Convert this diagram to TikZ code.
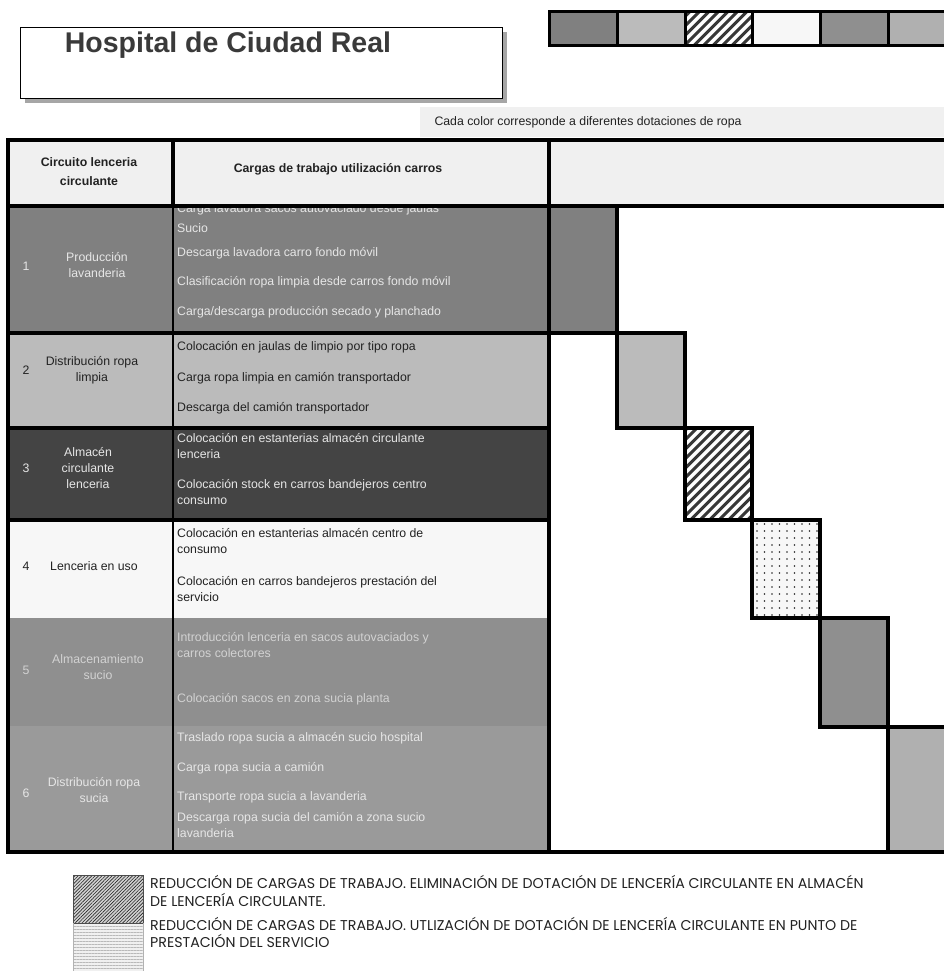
\documentclass[tikz,border=0pt]{standalone}
\usepackage{fontspec}
\setmainfont{Liberation Sans}
\newfontfamily\legfont{Poppins}
\usetikzlibrary{patterns.meta}
\definecolor{hdrbg}{HTML}{F0F0F0}
\definecolor{rowA}{HTML}{808080}
\definecolor{rowB}{HTML}{BBBBBB}
\definecolor{rowC}{HTML}{444444}
\definecolor{rowD}{HTML}{F7F7F7}
\definecolor{rowE}{HTML}{8F8F8F}
\definecolor{rowF}{HTML}{9A9A9A}
\definecolor{blkF}{HTML}{B0B0B0}
\definecolor{hatchcol}{HTML}{383838}
\definecolor{lighttxt}{HTML}{E6E6E6}
\definecolor{fadetxt}{HTML}{D2D2D2}
\definecolor{darktxt}{HTML}{222222}
\definecolor{titlecol}{HTML}{3A3A3A}
\tikzset{
  bodyfont/.style={font=\fontsize{12.3}{16}\selectfont},
  tline/.style={bodyfont, anchor=base west, inner sep=0pt},
  numlab/.style={bodyfont, anchor=base, inner sep=0pt},
  rowlab/.style={bodyfont, align=center, inner sep=0pt},
  heavy/.style={line width=3.5pt},
  thinrule/.style={line width=1.5pt},
  barline/.style={line width=3pt},
  stripe/.style={line width=2.9pt, hatchcol},
  legtext/.style={font=\legfont\fontsize{14.2}{16}\selectfont, anchor=base west, inner sep=0pt, text=darktxt}
}
\begin{document}
\begin{tikzpicture}[x=1pt,y=-1pt]
\useasboundingbox (0,0) rectangle (944,971);
\fill[white] (0,0) rectangle (944,971);

% ---------- title box ----------
\fill[gray!70] (25,32) rectangle (507,103);
\node[draw=black, line width=1.2pt, fill=white, anchor=north west,
      minimum width=482pt, minimum height=71pt, inner sep=0pt] (titlebox) at (20,27) {};
\node[anchor=base, inner sep=0pt, text=titlecol,
      font=\fontsize{28.5}{30}\selectfont\bfseries] (title) at (228,53) {Hospital de Ciudad Real};

% ---------- colour bar ----------
\fill[rowA] (549,12) rectangle (617,46);
\fill[rowB] (617,12) rectangle (685,46);
\begin{scope}
\clip (685,12) rectangle (752,46);
\fill[white] (685,12) rectangle (752,46);
\foreach \xx in {646,655.5,...,760} \draw[stripe] (\xx,46) -- ++(34,-34);
\end{scope}
\fill[rowD] (752,12) rectangle (820,46);
\fill[rowE] (820,12) rectangle (888,46);
\fill[blkF] (888,12) rectangle (950,46);
\draw[barline] (549,12) rectangle (950,46);
\foreach \xx in {617,685,752,820,888} \draw[barline] (\xx,12) -- (\xx,46);

% ---------- note strip ----------
\fill[hdrbg] (420,107) rectangle (944,137);
\node[bodyfont, text=darktxt, inner sep=0pt] (note) at (588,122) {Cada color corresponde a diferentes dotaciones de ropa};

% ---------- table backgrounds ----------
\fill[hdrbg] (8,140) rectangle (948,206);
\fill[rowA] (8,206) rectangle (549,333);
\fill[rowB] (8,333) rectangle (549,428);
\fill[rowC] (8,428) rectangle (549,520);
\fill[rowD] (8,520) rectangle (549,618);
\fill[rowE] (8,618) rectangle (549,726);
\fill[rowF] (8,726) rectangle (549,852);

% ---------- staircase blocks ----------
\fill[rowA] (549,206) rectangle (617,333);
\fill[rowB] (617,333) rectangle (685,428);
\begin{scope}
\clip (685,428) rectangle (752,520);
\fill[white] (685,428) rectangle (752,520);
\foreach \xx in {586,595.5,...,760} \draw[stripe] (\xx,520) -- ++(92,-92);
\end{scope}
\fill[rowD] (752,520) rectangle (820,618);
\foreach \yy in {524,531,...,616}
  \foreach \xx in {757,764.5,...,818}
    \fill[black!85] (\xx,\yy) circle[radius=0.8pt];
\fill[rowE] (820,618) rectangle (888,727);
\fill[blkF] (888,727) rectangle (950,852);

% ---------- header texts ----------
\node[font=\fontsize{12.3}{19}\selectfont\bfseries, align=center, text=darktxt, inner sep=0pt] (h1) at (89,172) {Circuito lenceria\\circulante};
\node[font=\fontsize{12.3}{16}\selectfont\bfseries, text=darktxt, inner sep=0pt] (h2) at (338,169) {Cargas de trabajo utilización carros};

% ---------- row 1 ----------
\node[numlab, text=lighttxt] (n1) at (26,270) {1};
\node[rowlab, text=lighttxt] (l1) at (97,265) {Producción\\lavanderia};
\begin{scope}
\clip (173,208) rectangle (549,333);
\node[tline, text=lighttxt] (r1a) at (177,212) {Carga lavadora sacos autovaciado desde jaulas};
\end{scope}
\node[tline, text=lighttxt] (r1b) at (177,232) {Sucio};
\node[tline, text=lighttxt] (r1c) at (177,256) {Descarga lavadora carro fondo móvil};
\node[tline, text=lighttxt] (r1d) at (177,285) {Clasificación ropa limpia desde carros fondo móvil};
\node[tline, text=lighttxt] (r1e) at (177,315) {Carga/descarga producción secado y planchado};

% ---------- row 2 ----------
\node[numlab, text=darktxt] (n2) at (26,374) {2};
\node[rowlab, text=darktxt] (l2) at (92,370) {Distribución ropa\\limpia};
\node[tline, text=darktxt] (r2a) at (177,350) {Colocación en jaulas de limpio por tipo ropa};
\node[tline, text=darktxt] (r2b) at (177,381) {Carga ropa limpia en camión transportador};
\node[tline, text=darktxt] (r2c) at (177,411) {Descarga del camión transportador};

% ---------- row 3 ----------
\node[numlab, text=lighttxt] (n3) at (26,472) {3};
\node[rowlab, text=lighttxt] (l3) at (88,468) {Almacén\\circulante\\lenceria};
\node[tline, text=lighttxt] (r3a) at (177,442) {Colocación en estanterias almacén circulante};
\node[tline, text=lighttxt] (r3b) at (177,458) {lenceria};
\node[tline, text=lighttxt] (r3c) at (177,488) {Colocación stock en carros bandejeros centro};
\node[tline, text=lighttxt] (r3d) at (177,504) {consumo};

% ---------- row 4 ----------
\node[numlab, text=darktxt] (n4) at (26,570) {4};
\node[rowlab, text=darktxt] (l4) at (94,566) {Lenceria en uso};
\node[tline, text=darktxt] (r4a) at (177,537) {Colocación en estanterias almacén centro de};
\node[tline, text=darktxt] (r4b) at (177,553) {consumo};
\node[tline, text=darktxt] (r4c) at (177,585) {Colocación en carros bandejeros prestación del};
\node[tline, text=darktxt] (r4d) at (177,601) {servicio};

% ---------- row 5 ----------
\node[numlab, text=fadetxt] (n5) at (26,674) {5};
\node[rowlab, text=fadetxt] (l5) at (98,667) {Almacenamiento\\sucio};
\node[tline, text=fadetxt] (r5a) at (177,641) {Introducción lenceria en sacos autovaciados y};
\node[tline, text=fadetxt] (r5b) at (177,657) {carros colectores};
\node[tline, text=fadetxt] (r5c) at (177,702) {Colocación sacos en zona sucia planta};

% ---------- row 6 ----------
\node[numlab, text=lighttxt] (n6) at (26,797) {6};
\node[rowlab, text=lighttxt] (l6) at (94,790) {Distribución ropa\\sucia};
\node[tline, text=lighttxt] (r6a) at (177,741) {Traslado ropa sucia a almacén sucio hospital};
\node[tline, text=lighttxt] (r6b) at (177,771) {Carga ropa sucia a camión};
\node[tline, text=lighttxt] (r6c) at (177,800) {Transporte ropa sucia a lavanderia};
\node[tline, text=lighttxt] (r6d) at (177,821) {Descarga ropa sucia del camión a zona sucio};
\node[tline, text=lighttxt] (r6e) at (177,837) {lavanderia};

% ---------- table rules ----------
\draw[thinrule] (173,206) -- (173,852);
\draw[heavy] (173,140) -- (173,206);
\draw[heavy] (6.25,140) -- (948,140);
\draw[heavy] (8,140) -- (8,854);
\draw[heavy] (549,140) -- (549,854);
\draw[heavy] (8,206) -- (948,206);
\draw[heavy] (8,333) -- (549,333);
\draw[heavy] (8,428) -- (549,428);
\draw[heavy] (8,520) -- (549,520);
\draw[heavy] (6.25,852) -- (948,852);
\draw[heavy] (549,206) rectangle (617,333);
\draw[heavy] (617,333) rectangle (685,428);
\draw[heavy] (685,428) rectangle (752,520);
\draw[heavy] (752,520) rectangle (820,618);
\draw[heavy] (820,618) rectangle (888,727);
\draw[heavy] (888,727) rectangle (950,852);

% ---------- legend ----------
\fill[gray!35] (73,875) rectangle (143,923);
\fill[pattern={Lines[angle=45,distance=2.4pt,line width=0.6pt]}, pattern color=gray!30!black] (73,875) rectangle (143,923);
\fill[gray!12] (73,923) rectangle (143,975);
\fill[pattern={Lines[angle=0,distance=3pt,line width=0.5pt]}, pattern color=gray!55] (73,923) rectangle (143,975);
\draw[line width=0.8pt, gray!60!black] (73,875) rectangle (143,923);
\draw[line width=0.8pt, gray!60] (73,923) -- (73,975) (143,923) -- (143,975);
\node[legtext] (g1) at (150,888) {REDUCCIÓN DE CARGAS DE TRABAJO. ELIMINACIÓN DE DOTACIÓN DE LENCERÍA CIRCULANTE EN ALMACÉN};
\node[legtext] (g2) at (150,906) {DE LENCERÍA CIRCULANTE.};
\node[legtext] (g3) at (150,930) {REDUCCIÓN DE CARGAS DE TRABAJO. UTLIZACIÓN DE DOTACIÓN DE LENCERÍA CIRCULANTE EN PUNTO DE};
\node[legtext] (g4) at (150,947) {PRESTACIÓN DEL SERVICIO};
\end{tikzpicture}
\end{document}
